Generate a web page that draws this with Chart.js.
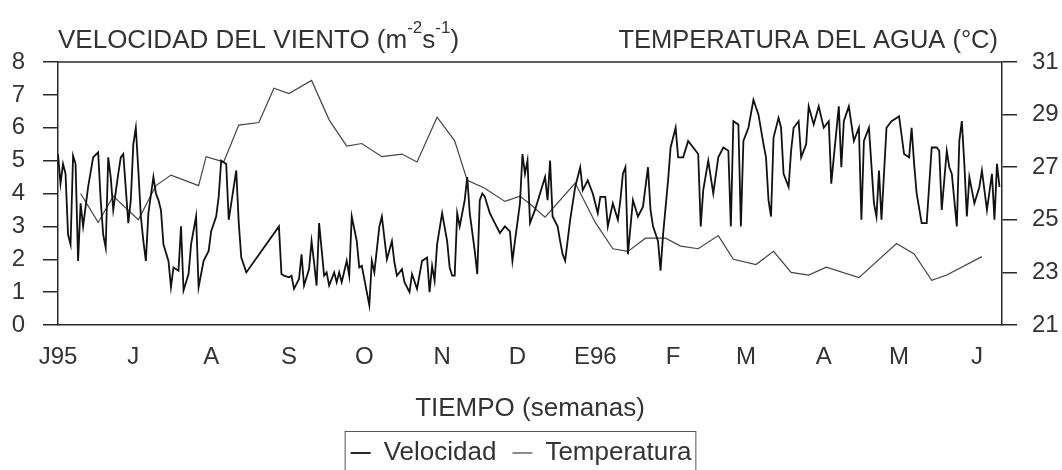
<!DOCTYPE html>
<html>
<head>
<meta charset="utf-8">
<script src="https://cdn.jsdelivr.net/npm/chart.js@4.4.0/dist/chart.umd.min.js"></script>
<style>
  html, body { margin: 0; padding: 0; background: #fff; }
  #wrap { width: 1062px; height: 470px; }
</style>
</head>
<body>
<div id="wrap"><canvas id="viento-chart" width="1062" height="470"></canvas></div>
<script>
// x axis: days since 1 June 1995, one label per month
const monthDays = [0, 30, 61, 92, 122, 153, 183, 214, 245, 274, 305, 335, 366];
const monthLabels = ["J95", "J", "A", "S", "O", "N", "D", "E96", "F", "M", "A", "M", "J"];

// wind speed (left axis)
const velDays = [0, 1, 2, 3, 4, 5, 6, 7, 8, 9, 10, 12, 14, 16, 17, 18, 19, 20, 21, 22, 24, 25, 26, 28, 29, 30, 31, 32, 33, 34, 35, 36, 38, 39, 40, 41, 42, 44, 45, 46, 48, 49, 50, 52, 53, 55, 56, 58, 60, 61, 63, 64, 65, 67, 68, 70, 71, 72, 73, 75, 88, 89, 90, 92, 93, 94, 96, 97, 98, 100, 101, 102, 103, 104, 106, 107, 108, 110, 111, 112, 113, 115, 116, 117, 119, 120, 121, 123, 124, 125, 126, 128, 129, 131, 133, 134, 135, 137, 138, 140, 141, 143, 145, 147, 148, 149, 150, 151, 153, 155, 156, 157, 158, 159, 160, 162, 163, 164, 166, 167, 168, 169, 170, 172, 174, 176, 178, 180, 181, 182, 184, 185, 186, 187, 188, 190, 192, 194, 195, 196, 197, 199, 200, 201, 202, 204, 206, 208, 209, 211, 213, 215, 216, 218, 219, 221, 223, 224, 225, 226, 227, 229, 231, 233, 235, 236, 237, 239, 240, 241, 243, 244, 246, 247, 249, 251, 253, 255, 256, 257, 259, 261, 263, 265, 267, 268, 269, 271, 272, 273, 275, 277, 279, 281, 282, 283, 284, 285, 287, 288, 289, 291, 292, 293, 295, 296, 298, 299, 301, 303, 305, 307, 308, 309, 311, 312, 313, 315, 317, 319, 320, 321, 323, 325, 326, 327, 328, 330, 332, 334, 335, 337, 339, 340, 341, 342, 344, 346, 348, 350, 351, 352, 354, 355, 356, 358, 359, 360, 361, 362, 363, 365, 367, 368, 370, 372, 373, 374, 375];
const velValues = [5.2, 4.3, 4.9, 4.6, 2.75, 2.45, 5.15, 4.9, 1.95, 3.7, 3.0, 4.2, 5.1, 5.25, 3.8, 2.75, 2.35, 5.1, 4.5, 3.5, 4.6, 5.1, 5.2, 3.1, 3.8, 5.5, 6.0, 4.7, 3.3, 2.55, 1.95, 3.4, 4.5, 4.0, 3.8, 3.5, 2.45, 1.95, 1.15, 1.75, 1.65, 3.0, 1.05, 1.55, 2.45, 3.3, 1.15, 1.95, 2.25, 2.85, 3.3, 3.9, 5.0, 4.9, 3.2, 4.2, 4.7, 3.1, 2.05, 1.6, 3.0, 1.55, 1.5, 1.45, 1.5, 1.1, 1.4, 2.15, 1.2, 1.7, 2.55, 1.9, 1.2, 3.1, 1.5, 1.6, 1.2, 1.6, 1.3, 1.6, 1.3, 1.95, 1.5, 3.3, 2.55, 1.75, 1.8, 1.0, 0.6, 1.95, 1.6, 3.0, 3.3, 2.0, 2.55, 1.9, 1.5, 1.7, 1.3, 1.0, 1.55, 1.1, 1.95, 2.05, 1.0, 1.8, 1.35, 2.45, 3.4, 2.55, 1.75, 1.5, 1.5, 3.4, 3.0, 3.8, 4.5, 3.4, 2.25, 1.55, 3.8, 4.0, 3.9, 3.4, 3.1, 2.8, 3.0, 2.85, 1.95, 2.55, 3.7, 5.2, 4.6, 5.0, 3.1, 3.5, 4.0, 4.5, 3.8, 5.0, 3.3, 3.0, 2.55, 2.15, 1.95, 3.2, 4.2, 4.8, 4.1, 4.4, 4.0, 3.4, 3.9, 3.9, 3.0, 3.7, 3.2, 3.8, 4.6, 4.8, 2.15, 3.8, 3.3, 3.6, 4.8, 3.5, 3.0, 2.55, 1.65, 2.75, 4.4, 5.4, 6.0, 5.1, 5.1, 5.6, 5.4, 5.2, 3.0, 4.1, 5.0, 4.0, 5.1, 5.4, 5.3, 3.0, 6.2, 6.1, 3.0, 5.6, 6.0, 6.85, 6.4, 5.5, 5.1, 3.8, 3.3, 5.7, 6.3, 6.0, 4.6, 4.2, 5.3, 6.0, 6.2, 5.1, 5.5, 6.65, 6.1, 6.65, 6.0, 6.2, 4.3, 5.1, 6.65, 4.8, 6.2, 6.65, 5.6, 6.0, 3.2, 5.6, 6.0, 3.7, 3.3, 4.7, 3.2, 6.0, 6.2, 6.3, 6.35, 5.2, 5.1, 6.0, 4.9, 4.0, 3.1, 3.1, 5.4, 5.4, 5.3, 3.5, 5.3, 4.8, 4.6, 3.0, 5.6, 6.2, 4.9, 3.3, 4.5, 3.7, 4.2, 4.7, 3.5, 4.6, 3.2, 4.9, 4.2];

// water temperature (right axis)
const tempDays = [9, 16, 22, 32, 39, 45, 56, 59, 66, 72, 80, 86, 92, 101, 108, 115, 121, 129, 137, 143, 151, 158, 163, 170, 178, 184, 188, 194, 206, 214, 221, 227, 234, 242, 248, 255, 263, 269, 278, 285, 292, 299, 306, 319, 334, 341, 348, 354, 368];
const tempValues = [26.0, 24.9, 25.9, 25.0, 26.3, 26.7, 26.3, 27.4, 27.2, 28.6, 28.7, 30.0, 29.8, 30.3, 28.8, 27.8, 27.9, 27.4, 27.5, 27.2, 28.9, 28.0, 26.5, 26.2, 25.7, 25.9, 25.6, 25.1, 26.4, 24.9, 23.9, 23.8, 24.3, 24.3, 24.0, 23.9, 24.4, 23.5, 23.3, 23.8, 23.0, 22.9, 23.2, 22.8, 24.1, 23.7, 22.7, 22.9, 23.6];

const textColor = "#333";
const lineColor = "#2a2a2a";

Chart.defaults.font.family = "'Liberation Sans', Arial, sans-serif";
Chart.defaults.color = textColor;

// axis titles over the plot, plus the top frame line
const topTitles = {
  id: "topTitles",
  afterDraw(chart) {
    const { ctx, chartArea } = chart;
    ctx.save();
    ctx.strokeStyle = lineColor;
    ctx.lineWidth = 1.5;
    ctx.beginPath();
    ctx.moveTo(chartArea.left, chartArea.top);
    ctx.lineTo(chartArea.right, chartArea.top);
    ctx.stroke();

    ctx.fillStyle = textColor;
    ctx.textBaseline = "alphabetic";
    const base = chartArea.top - 14;
    let x = chartArea.left;
    const parts = [["VELOCIDAD DEL VIENTO (m", false], ["-2", true], ["s", false], ["-1", true], [")", false]];
    parts.forEach(([t, sup]) => {
      ctx.font = sup ? "17px 'Liberation Sans'" : "26px 'Liberation Sans'";
      ctx.fillText(t, x, sup ? base - 15 : base);
      x += ctx.measureText(t).width;
    });
    ctx.textAlign = "right";
    ctx.font = "25.5px 'Liberation Sans'";
    ctx.fillText("TEMPERATURA DEL AGUA (°C)", chartArea.right - 4, base);
    ctx.restore();
  },
};

// frame round the legend
const legendFrame = {
  id: "legendFrame",
  afterDraw(chart) {
    const boxes = chart.legend.legendHitBoxes;
    if (!boxes || !boxes.length) return;
    const left = Math.min(...boxes.map((b) => b.left)) - 6;
    const right = Math.max(...boxes.map((b) => b.left + b.width)) + 4;
    const top = Math.min(...boxes.map((b) => b.top)) - 9;
    const bottom = Math.max(...boxes.map((b) => b.top + b.height)) + 9;
    const { ctx } = chart;
    ctx.save();
    ctx.strokeStyle = "#555";
    ctx.lineWidth = 1;
    ctx.strokeRect(left + 0.5, top + 0.5, right - left, bottom - top);
    ctx.restore();
  },
};

const ctx = document.getElementById("viento-chart").getContext("2d");
new Chart(ctx, {
  type: "line",
  data: {
    datasets: [
      {
        label: "Velocidad",
        data: velDays.map((d, i) => ({ x: d, y: velValues[i] })),
        yAxisID: "y",
        borderColor: "#111",
        borderWidth: 1.8,
        pointRadius: 0,
        tension: 0,
      },
      {
        label: "Temperatura",
        data: tempDays.map((d, i) => ({ x: d, y: tempValues[i] })),
        yAxisID: "y2",
        borderColor: "#444",
        borderWidth: 1.2,
        pointRadius: 0,
        tension: 0,
      },
    ],
  },
  options: {
    responsive: false,
    animation: false,
    devicePixelRatio: 1,
    // negative left padding keeps the legend centred where the original has it
    layout: { padding: { left: -20, right: 0, top: 62, bottom: -6 } },
    plugins: {
      legend: {
        position: "bottom",
        labels: {
          font: { size: 26 },
          color: textColor,
          usePointStyle: true,
          pointStyle: "line",
          pointStyleWidth: 20,
          padding: 16,
        },
      },
      tooltip: { enabled: false },
    },
    scales: {
      x: {
        type: "linear",
        min: 0,
        max: 376,
        afterBuildTicks: (axis) => {
          axis.ticks = monthDays.map((v) => ({ value: v }));
        },
        ticks: {
          autoSkip: false,
          maxRotation: 0,
          padding: 10,
          font: { size: 24 },
          color: textColor,
          callback: (value) => monthLabels[monthDays.indexOf(value)],
        },
        grid: { display: false },
        border: { display: true, color: lineColor, width: 1.5 },
        title: {
          display: true,
          text: "TIEMPO (semanas)",
          font: { size: 26 },
          color: textColor,
          padding: { top: 11, bottom: 0 },
        },
      },
      y: {
        position: "left",
        min: 0,
        max: 8,
        afterFit: (axis) => { axis.width = 78; },
        ticks: { stepSize: 1, autoSkip: false, padding: 18, font: { size: 24 }, color: textColor },
        grid: { drawOnChartArea: false, tickLength: 15, color: lineColor, lineWidth: 1.5 },
        border: { display: true, color: lineColor, width: 1.5 },
      },
      y2: {
        position: "right",
        min: 21,
        max: 31,
        afterFit: (axis) => { axis.width = 60; },
        ticks: { stepSize: 2, autoSkip: false, padding: 15, font: { size: 24 }, color: textColor },
        grid: { drawOnChartArea: false, tickLength: 15, color: lineColor, lineWidth: 1.5 },
        border: { display: true, color: lineColor, width: 1.5 },
      },
    },
  },
  plugins: [topTitles, legendFrame],
});
</script>
</body>
</html>
